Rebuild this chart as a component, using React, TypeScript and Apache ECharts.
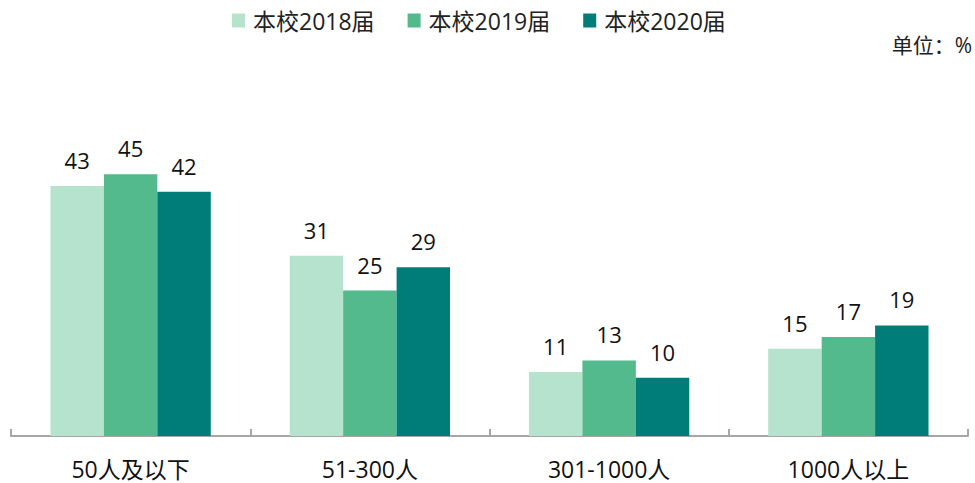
import React, { useEffect, useRef } from "react";
import * as echarts from "echarts";

const categories = ["50人及以下", "51-300人", "301-1000人", "1000人以上"];
const seriesNames = ["本校2018届", "本校2019届", "本校2020届"];
const values2018 = [43, 31, 11, 15];
const values2019 = [45, 25, 13, 17];
const values2020 = [42, 29, 10, 19];
const colors = ["#B5E3CD", "#52BA8D", "#007D78"];
const unitLabel = "单位：%";

const FONT = "'Open Sans', 'Noto Sans CJK SC', sans-serif";

export default function App() {
  const ref = useRef<HTMLDivElement>(null);
  useEffect(() => {
    if (!ref.current) return;
    const chart = echarts.init(ref.current, null, { renderer: "svg" });
    const data = [values2018, values2019, values2020];
    chart.setOption({
      animation: false,
      color: colors,
      textStyle: { fontFamily: FONT },
      legend: {
        top: 9,
        left: 232,
        padding: 0,
        itemWidth: 13,
        itemHeight: 14,
        itemGap: 33,
        icon: "rect",
        textStyle: { fontSize: 23, color: "#222", fontFamily: FONT, padding: [0, 0, 0, 3] },
        data: seriesNames,
      },
      graphic: [
        {
          type: "text",
          right: 3,
          top: 34,
          style: { text: unitLabel, fontSize: 21, fill: "#222", fontFamily: FONT },
        },
      ],
      grid: { left: 11, right: 7, top: 87, bottom: 47, containLabel: false },
      xAxis: {
        type: "category",
        data: categories,
        axisLine: { lineStyle: { color: "#A6A6A6", width: 2 } },
        axisTick: { show: true, inside: true, length: 7, lineStyle: { color: "#A6A6A6", width: 2 } },
        axisLabel: { fontSize: 23, color: "#111", margin: 21, fontFamily: FONT },
      },
      yAxis: { type: "value", min: 0, max: 60, show: false, splitLine: { show: false } },
      series: seriesNames.map((name, i) => ({
        name,
        type: "bar",
        data: data[i],
        barGap: "0%",
        barCategoryGap: "33%",
        itemStyle: { color: colors[i] },
        label: {
          show: true,
          position: "top",
          distance: 15,
          fontSize: 22,
          color: "#111",
          fontFamily: FONT,
        },
      })),
    });
    return () => chart.dispose();
  }, []);
  return (
    <div
      ref={ref}
      style={{ position: "absolute", left: 0, top: 0, width: 975, height: 483 }}
    />
  );
}
